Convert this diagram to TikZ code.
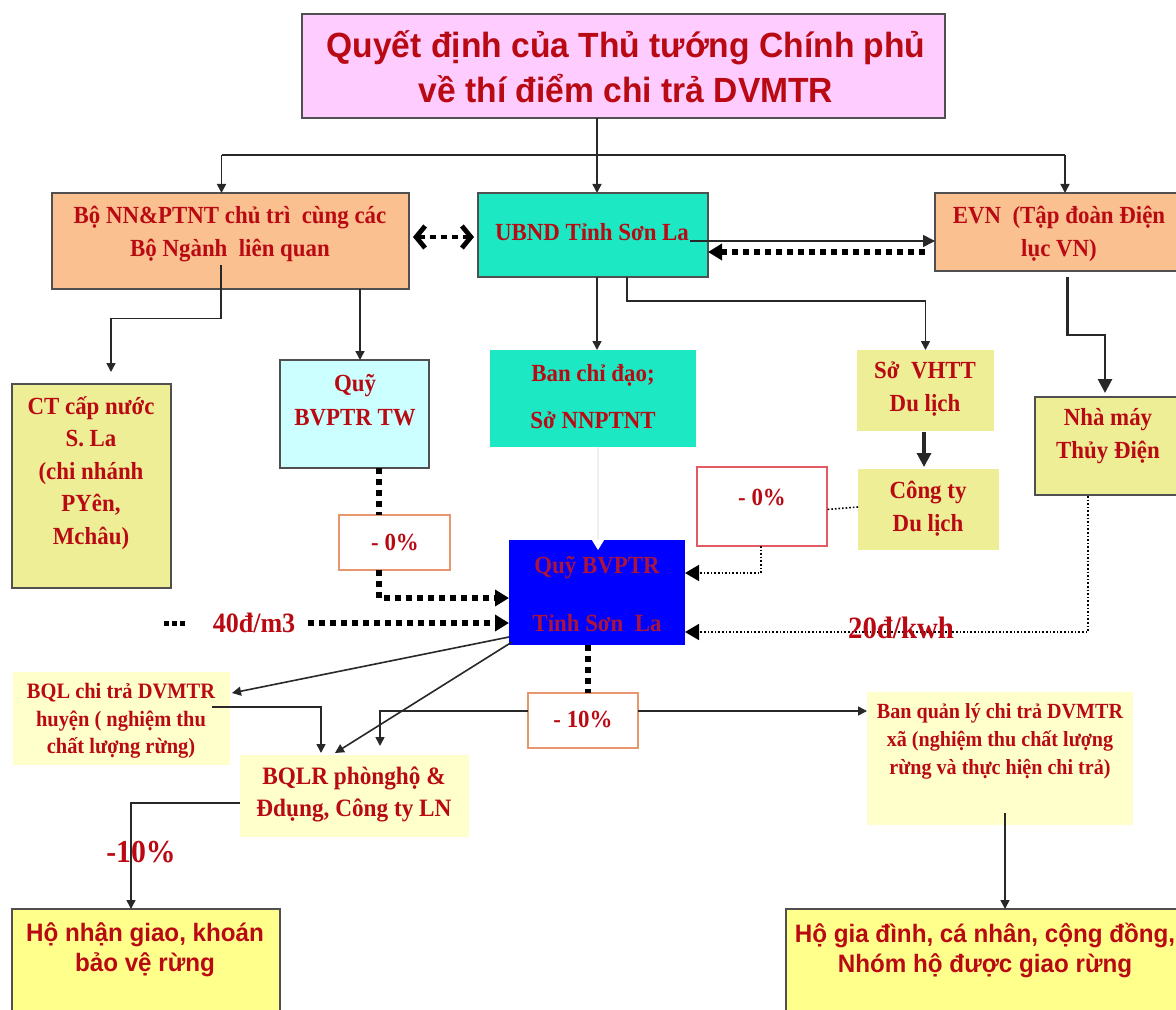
\documentclass[tikz,border=0pt]{standalone}
\usepackage{fontspec}
\setmainfont{Liberation Serif}[FakeStretch=0.93]
\newfontfamily\headsans{Liberation Sans}[FakeStretch=0.96]
\usetikzlibrary{arrows.meta,calc}

\definecolor{tred}{RGB}{185,10,20}
\definecolor{qtred}{RGB}{170,20,60}
\definecolor{pinkF}{RGB}{255,204,255}
\definecolor{peachF}{RGB}{250,192,144}
\definecolor{tealF}{RGB}{28,232,196}
\definecolor{cyanF}{RGB}{204,255,255}
\definecolor{olivF}{RGB}{238,238,150}
\definecolor{creamF}{RGB}{255,255,204}
\definecolor{yelF}{RGB}{255,255,140}
\definecolor{blueF}{RGB}{0,0,255}
\definecolor{edgeC}{RGB}{80,80,80}
\definecolor{lineC}{RGB}{40,40,40}
\definecolor{orangeE}{RGB}{232,150,110}
\definecolor{redE}{RGB}{225,90,100}

\newcommand{\setfs}[2]{\fontsize{#1pt}{#2pt}\selectfont}
% box from its corners (pixel grid), empty node
\newcommand{\boxat}[6]{\node[#6, minimum width={(#4-#2)*0.5pt}, minimum height={(#5-#3)*0.5pt}] (#1) at ({(#2+#4)/2},{(#3+#5)/2}) {};}

\begin{document}
\begin{tikzpicture}[x=0.5pt,y=-0.5pt,
  sbox/.style={draw=edgeC, line width=1pt, inner sep=0pt, outer sep=0pt},
  plain/.style={draw=none, inner sep=0pt, outer sep=0pt},
  txt/.style={text=tred, font=\bfseries, align=center, inner sep=0pt},
  conn/.style={draw=lineC, line width=0.8pt},
  arr/.style={conn, -{Triangle[length=4.5pt,width=4.5pt]}},
  thickdot/.style={draw=black, line width=3pt, dash pattern=on 3pt off 2.5pt},
  finedot/.style={draw=black, line width=0.8pt, dash pattern=on 0.8pt off 1pt},
  bigtip/.tip={Triangle[length=7pt,width=8pt]}]
\useasboundingbox (0,0) rectangle (1176,1010);
\clip (0,0) rectangle (1176,1010);
\fill[white] (0,0) rectangle (1176,1010);

% ---- boxes ----
\boxat{title}{302}{14}{945}{118}{sbox, fill=pinkF}
\boxat{bonn}{52}{193}{409}{289}{sbox, fill=peachF}
\boxat{ubnd}{478}{193}{708}{277}{sbox, fill=tealF}
\boxat{evn}{935}{193}{1185}{271}{sbox, fill=peachF}
\boxat{ct}{12}{384}{171}{588}{sbox, fill=olivF}
\boxat{quytw}{280}{360}{429}{468}{sbox, fill=cyanF}
\boxat{bcd}{490}{350}{696}{447}{plain, fill=tealF}
\boxat{sov}{857}{350}{994}{431}{plain, fill=olivF}
\boxat{cty}{858}{469}{999}{550}{plain, fill=olivF}
\boxat{nm}{1035}{397}{1185}{495}{sbox, fill=olivF}
\boxat{p0r}{697}{467}{827}{546}{sbox, draw=redE, fill=white}
\boxat{p0l}{339}{515}{450}{570}{sbox, draw=orangeE, fill=white}
\boxat{quysl}{509}{540}{685}{645}{plain, fill=blueF}
\boxat{l40}{201}{600}{308}{646}{plain, fill=white}
\boxat{l20}{828}{605}{975}{655}{plain}
\boxat{p10}{528}{693}{638}{748}{sbox, draw=orangeE, fill=white}
\boxat{bqlh}{13}{672}{230}{765}{plain, fill=creamF}
\boxat{bqlr}{240}{755}{469}{837}{plain, fill=creamF}
\boxat{bqlx}{867}{692}{1133}{825}{plain, fill=creamF}
\boxat{l10}{92}{827}{191}{873}{plain}
\boxat{hon}{12}{909}{280}{1020}{sbox, fill=yelF}
\boxat{hogd}{786}{909}{1185}{1020}{sbox, fill=yelF}

% ---- top distribution ----
\coordinate (hbar) at (0,155);
\coordinate (bonnIn) at ($(bonn.north)+(-9,0)$);
\coordinate (evnIn) at ($(evn.north)+(5,0)$);
\draw[conn] (bonnIn |- hbar) -- (evnIn |- hbar);
\draw[arr] (bonnIn |- hbar) -- (bonnIn);
\draw[arr] (evnIn |- hbar) -- (evnIn);
\coordinate (ubIn) at ($(ubnd.north)+(4,0)$);
\draw[arr] (ubIn |- title.south) -- (ubIn);

% ---- links between the three bodies ----
\draw[draw=black, line width=2.4pt, dash pattern=on 3pt off 2.5pt,
  {Straight Barb[length=4.5pt,width=11pt]}-{Straight Barb[length=4.5pt,width=11pt]}]
  ($(bonn.east)+(4,-4)$) -- ($(ubnd.west)+(-4,2)$);
\coordinate (ubOut) at ($(ubnd.east)+(-18,6)$);
\draw[conn, -{Triangle[length=6pt,width=6pt]}] (ubOut) -- (ubOut -| evn.west);
\coordinate (evOut) at ($(evn.west)+(-10,20)$);
\draw[thickdot, -bigtip] (evOut) -- (evOut -| ubnd.east);

% ---- second level ----
\draw[arr] (ubIn |- ubnd.south) -- (ubIn |- bcd.north);
\coordinate (u2) at ($(ubnd.south)+(34,0)$);
\draw[arr] (u2) -- ++(0,24) -| (sov.north);
\coordinate (bonnA) at ($(bonn.south)+(-9.5,-24)$);
\coordinate (ctIn) at ($(ct.north)+(19.5,-12)$);
\draw[arr] (bonnA) |- ($(bonnA)!0.5!(ctIn)$) -| (ctIn);
\coordinate (twIn) at ($(quytw.north)+(5.5,0)$);
\draw[arr] (twIn |- bonn.south) -- (twIn);
\coordinate (evDown) at ($(evn.south)+(7.5,6)$);
\coordinate (nmIn) at ($(nm.north)+(-5,-4)$);
\draw[conn, line width=1.4pt, -{Triangle[length=7pt,width=7pt]}] (evDown) -- ++(0,58) -| (nmIn);
\coordinate (svx) at ($(sov.south)+(-1.5,1)$);
\draw[conn, line width=1.6pt, -{Triangle[length=7pt,width=7pt]}] (svx) -- ($(svx |- cty.north)+(0,-2)$);

% ---- payments into the provincial fund ----
\draw[finedot] ($(cty.west)+(0,-2.5)$) -- (p0r.east |- cty.west);
\coordinate (p0rOut) at ($(p0r.south)+(-1,0)$);
\draw[finedot, -bigtip] (p0rOut) |- ($(quysl.east)+(0,-19.5)$);
\coordinate (nmOut) at ($(nm.south)+(-22,1)$);
\draw[finedot, -bigtip] (nmOut) |- ($(quysl.east)+(0,39.5)$);
\coordinate (twOut) at ($(quytw.south)+(24.5,0)$);
\draw[thickdot] (twOut) -- (twOut |- p0l.north);
\draw[thickdot, -bigtip] (twOut |- p0l.south) |- ($(quysl.west)+(0,5.5)$);
\draw[thickdot, -bigtip] (l40.east) -- (quysl.west |- l40.east);
\coordinate (dotsA) at ($(l40.west)+(-37,0)$);
\coordinate (dotsB) at ($(l40.west)+(-15,0)$);
\draw[draw=black, line width=2.5pt, dash pattern=on 2.5pt off 1.5pt] (dotsA) -- (dotsB);
\draw[draw=gray!12, line width=0.6pt, -{Triangle[length=5pt,width=6pt,color=white]}]
  ($(bcd.south)+(5,0)$) -- ($(quysl.north)+(1,10)$);

% ---- distribution from the provincial fund ----
\coordinate (qsOut) at ($(quysl.south)+(-9,0)$);
\draw[thickdot] (qsOut) -- (qsOut |- p10.north);
\coordinate (p10r) at ($(p10.east)+(0,-9.5)$);
\draw[arr] (p10r) -- (p10r -| bqlx.west);
\coordinate (p10l) at ($(p10.west)+(0,-9.5)$);
\draw[arr] (p10l) -| ($(bqlr.north)+(25.5,-9)$);
\draw[arr] ($(quysl.south west)+(0,-8)$) -- ($(bqlh.east)+(2,-25.5)$);
\draw[arr] ($(quysl.south west)+(3,-3)$) -- ($(bqlr.north)+(-19.5,-2)$);
\coordinate (bhOut) at ($(bqlh.east)+(-18,-11.5)$);
\draw[arr] (bhOut) -| ($(bqlr.north)+(-33.5,-2)$);
\draw[arr] ($(bqlr.west)+(0,7)$) -| ($(hon.north)+(-15,0)$);
\coordinate (bxOut) at ($(bqlx.south)+(5,-12)$);
\draw[arr] (bxOut) -- (bxOut |- hogd.north);

% ---- texts ----
\node[txt, font=\headsans\bfseries\setfs{17.5}{22.5}] (titleT) at (626,67)
  {Quyết định của Thủ tướng Chính phủ\\về thí điểm chi trả DVMTR};
\node[txt, font=\bfseries\setfs{12.3}{16.5}] (bonnT) at (230,234)
  {Bộ NN\&PTNT chủ trì\ \ cùng các\\Bộ Ngành\ \ liên quan};
\node[txt, font=\bfseries\setfs{12.3}{16.5}] (ubndT) at (592,232) {UBND Tỉnh Sơn La};
\node[txt, font=\bfseries\setfs{12.3}{16.5}] (evnT) at (1059,234)
  {EVN\ \ (Tập đoàn Điện\\lục VN)};
\node[txt, font=\bfseries\setfs{12.3}{23.5}] (bcdT) at (593,397) {Ban chỉ đạo;\\Sở NNPTNT};
\node[txt, font=\bfseries\setfs{12.3}{17}] (quytwT) at (355,400) {Quỹ\\BVPTR TW};
\node[txt, font=\bfseries\setfs{12.3}{16.25}] (ctT) at (91,473)
  {CT cấp nước\\S. La\\(chi nhánh\\PYên,\\Mchâu)};
\node[txt, font=\bfseries\setfs{12.3}{16.5}] (sovT) at (925,389) {Sở\ \ VHTT\\Du lịch};
\node[txt, font=\bfseries\setfs{12.3}{16.5}] (ctyT) at (928,509) {Công ty\\Du lịch};
\node[txt, font=\bfseries\setfs{12.3}{16.5}] (nmT) at (1108,436) {Nhà máy\\Thủy Điện};
\node[txt, font=\bfseries\setfs{12.3}{16.5}] (p0rT) at (762,497) {- 0\%};
\node[txt, font=\bfseries\setfs{12.3}{16.5}] (p0lT) at (395,542) {- 0\%};
\node[txt, text=qtred, font=\bfseries\setfs{12.3}{29}] (quyslT) at (597,594)
  {Quỹ BVPTR\\Tỉnh Sơn\ \ La};
\node[txt, font=\bfseries\setfs{12.3}{16.5}] (p10T) at (583,719) {- 10\%};
\node[txt, font=\bfseries\setfs{11}{13.75}] (bqlhT) at (121,721)
  {BQL chi trả DVMTR\\huyện ( nghiệm thu\\chất lượng rừng)};
\node[txt, font=\bfseries\setfs{12.5}{16}] (bqlrT) at (354,794)
  {BQLR phònghộ \&\\Đdụng, Công ty LN};
\node[txt, font=\bfseries\setfs{10.8}{14}] (bqlxT) at (1000,741)
  {Ban quản lý chi trả DVMTR\\xã (nghiệm thu chất lượng\\rừng và thực hiện chi trả)};
\node[txt, font=\headsans\bfseries\setfs{12.6}{15}] (honT) at (145,950)
  {Hộ nhận giao, khoán\\bảo vệ rừng};
\node[txt, font=\headsans\bfseries\setfs{12.6}{15}] (hogdT) at (985,950)
  {Hộ gia đình, cá nhân, cộng đồng,\\Nhóm hộ được giao rừng};
\node[txt, font=\bfseries\setfs{14}{16}] (l40T) at (254,623) {40đ/m3};
\node[txt, font=\bfseries\setfs{15.5}{18}] (l20T) at (901,628) {20đ/kwh};
\node[txt, font=\bfseries\setfs{16}{18}] (l10T) at (141,852) {-10\%};
\end{tikzpicture}
\end{document}
